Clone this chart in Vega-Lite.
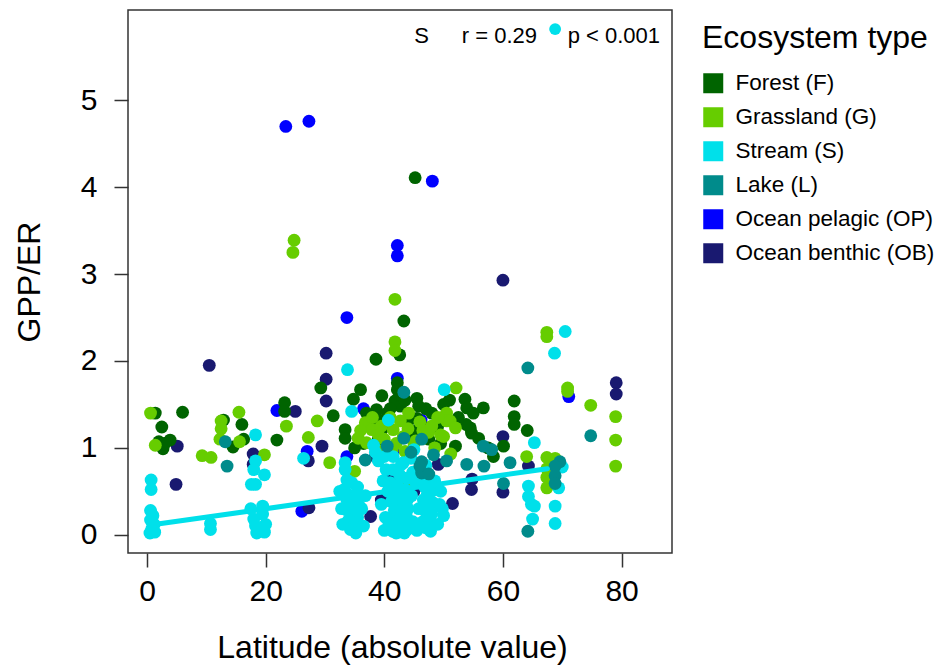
{
  "$schema": "https://vega.github.io/schema/vega-lite/v6.json",
  "width": 544,
  "height": 543,
  "autosize": {"type": "none"},
  "padding": {"left": 128, "top": 10, "right": 266, "bottom": 112},
  "background": "white",
  "config": {
    "font": "Liberation Sans",
    "view": {"stroke": "#333333", "strokeWidth": 1.5},
    "axis": {
      "labelFont": "Liberation Sans", "titleFont": "Liberation Sans",
      "labelFontSize": 30, "titleFontSize": 32, "titleFontWeight": "normal",
      "labelColor": "black", "titleColor": "black",
      "tickSize": 14, "tickColor": "#333333", "tickWidth": 1.5,
      "domain": false, "grid": false
    }
  },
  "datasets": {
    "pts": [
      {"type":"Ocean pelagic (OP)","lat":23.4,"ratio":4.70},
      {"type":"Ocean pelagic (OP)","lat":27.3,"ratio":4.76},
      {"type":"Ocean pelagic (OP)","lat":48.1,"ratio":4.07},
      {"type":"Ocean pelagic (OP)","lat":42.2,"ratio":3.33},
      {"type":"Ocean pelagic (OP)","lat":42.2,"ratio":3.21},
      {"type":"Ocean pelagic (OP)","lat":33.7,"ratio":2.50},
      {"type":"Ocean pelagic (OP)","lat":42.2,"ratio":1.80},
      {"type":"Ocean pelagic (OP)","lat":21.9,"ratio":1.43},
      {"type":"Ocean pelagic (OP)","lat":36.5,"ratio":1.45},
      {"type":"Ocean pelagic (OP)","lat":27.0,"ratio":0.96},
      {"type":"Ocean pelagic (OP)","lat":33.7,"ratio":0.90},
      {"type":"Ocean pelagic (OP)","lat":26.1,"ratio":0.27},
      {"type":"Ocean pelagic (OP)","lat":46.2,"ratio":1.32},
      {"type":"Ocean pelagic (OP)","lat":71.1,"ratio":1.59},
      {"type":"Ocean pelagic (OP)","lat":41.5,"ratio":0.97},
      {"type":"Ocean benthic (OB)","lat":60.0,"ratio":2.93},
      {"type":"Ocean benthic (OB)","lat":10.5,"ratio":1.95},
      {"type":"Ocean benthic (OB)","lat":30.2,"ratio":2.09},
      {"type":"Ocean benthic (OB)","lat":30.2,"ratio":1.79},
      {"type":"Ocean benthic (OB)","lat":30.2,"ratio":1.54},
      {"type":"Ocean benthic (OB)","lat":25.0,"ratio":1.42},
      {"type":"Ocean benthic (OB)","lat":5.1,"ratio":1.02},
      {"type":"Ocean benthic (OB)","lat":4.9,"ratio":0.58},
      {"type":"Ocean benthic (OB)","lat":17.9,"ratio":0.93},
      {"type":"Ocean benthic (OB)","lat":17.9,"ratio":0.81},
      {"type":"Ocean benthic (OB)","lat":29.5,"ratio":1.02},
      {"type":"Ocean benthic (OB)","lat":27.2,"ratio":0.85},
      {"type":"Ocean benthic (OB)","lat":27.3,"ratio":0.31},
      {"type":"Ocean benthic (OB)","lat":37.7,"ratio":0.21},
      {"type":"Ocean benthic (OB)","lat":41.5,"ratio":0.65},
      {"type":"Ocean benthic (OB)","lat":41.3,"ratio":0.70},
      {"type":"Ocean benthic (OB)","lat":49.1,"ratio":0.81},
      {"type":"Ocean benthic (OB)","lat":54.8,"ratio":0.64},
      {"type":"Ocean benthic (OB)","lat":54.7,"ratio":0.52},
      {"type":"Ocean benthic (OB)","lat":51.5,"ratio":0.36},
      {"type":"Ocean benthic (OB)","lat":60.0,"ratio":1.13},
      {"type":"Ocean benthic (OB)","lat":60.0,"ratio":0.49},
      {"type":"Ocean benthic (OB)","lat":64.3,"ratio":0.79},
      {"type":"Ocean benthic (OB)","lat":79.1,"ratio":1.75},
      {"type":"Ocean benthic (OB)","lat":79.1,"ratio":1.62},
      {"type":"Ocean benthic (OB)","lat":38.5,"ratio":0.90},
      {"type":"Ocean benthic (OB)","lat":45.0,"ratio":0.50},
      {"type":"Ocean benthic (OB)","lat":39.5,"ratio":0.40},
      {"type":"Forest (F)","lat":45.2,"ratio":4.11},
      {"type":"Forest (F)","lat":43.3,"ratio":2.46},
      {"type":"Forest (F)","lat":42.6,"ratio":2.07},
      {"type":"Forest (F)","lat":38.6,"ratio":2.02},
      {"type":"Forest (F)","lat":29.3,"ratio":1.69},
      {"type":"Forest (F)","lat":36.0,"ratio":1.67},
      {"type":"Forest (F)","lat":31.4,"ratio":1.37},
      {"type":"Forest (F)","lat":39.6,"ratio":1.60},
      {"type":"Forest (F)","lat":34.8,"ratio":1.56},
      {"type":"Forest (F)","lat":42.2,"ratio":1.75},
      {"type":"Forest (F)","lat":42.2,"ratio":1.67},
      {"type":"Forest (F)","lat":41.8,"ratio":1.54},
      {"type":"Forest (F)","lat":42.7,"ratio":1.48},
      {"type":"Forest (F)","lat":38.7,"ratio":1.44},
      {"type":"Forest (F)","lat":38.7,"ratio":1.34},
      {"type":"Forest (F)","lat":45.5,"ratio":1.57},
      {"type":"Forest (F)","lat":45.8,"ratio":1.48},
      {"type":"Forest (F)","lat":48.0,"ratio":1.40},
      {"type":"Forest (F)","lat":51.0,"ratio":1.55},
      {"type":"Forest (F)","lat":53.6,"ratio":1.56},
      {"type":"Forest (F)","lat":53.9,"ratio":1.46},
      {"type":"Forest (F)","lat":56.7,"ratio":1.46},
      {"type":"Forest (F)","lat":54.5,"ratio":1.23},
      {"type":"Forest (F)","lat":54.7,"ratio":1.17},
      {"type":"Forest (F)","lat":55.9,"ratio":1.11},
      {"type":"Forest (F)","lat":53.8,"ratio":1.27},
      {"type":"Forest (F)","lat":45.5,"ratio":1.34},
      {"type":"Forest (F)","lat":46.3,"ratio":1.25},
      {"type":"Forest (F)","lat":37.9,"ratio":1.25},
      {"type":"Forest (F)","lat":39.6,"ratio":1.21},
      {"type":"Forest (F)","lat":33.4,"ratio":1.21},
      {"type":"Forest (F)","lat":33.4,"ratio":1.11},
      {"type":"Forest (F)","lat":61.9,"ratio":1.54},
      {"type":"Forest (F)","lat":61.9,"ratio":1.36},
      {"type":"Forest (F)","lat":61.9,"ratio":1.27},
      {"type":"Forest (F)","lat":64.1,"ratio":1.20},
      {"type":"Forest (F)","lat":60.1,"ratio":1.02},
      {"type":"Forest (F)","lat":58.4,"ratio":0.90},
      {"type":"Forest (F)","lat":1.4,"ratio":1.40},
      {"type":"Forest (F)","lat":6.0,"ratio":1.41},
      {"type":"Forest (F)","lat":2.5,"ratio":1.24},
      {"type":"Forest (F)","lat":2.0,"ratio":1.07},
      {"type":"Forest (F)","lat":3.9,"ratio":1.09},
      {"type":"Forest (F)","lat":2.7,"ratio":0.99},
      {"type":"Forest (F)","lat":3.0,"ratio":1.05},
      {"type":"Forest (F)","lat":12.9,"ratio":1.32},
      {"type":"Forest (F)","lat":16.0,"ratio":1.27},
      {"type":"Forest (F)","lat":14.5,"ratio":1.01},
      {"type":"Forest (F)","lat":16.3,"ratio":1.10},
      {"type":"Forest (F)","lat":21.9,"ratio":1.09},
      {"type":"Forest (F)","lat":23.2,"ratio":1.52},
      {"type":"Forest (F)","lat":23.2,"ratio":1.42},
      {"type":"Forest (F)","lat":36.5,"ratio":1.05},
      {"type":"Forest (F)","lat":40.5,"ratio":1.40},
      {"type":"Forest (F)","lat":44.0,"ratio":1.30},
      {"type":"Forest (F)","lat":47.5,"ratio":1.10},
      {"type":"Forest (F)","lat":49.5,"ratio":1.05},
      {"type":"Forest (F)","lat":44.5,"ratio":1.15},
      {"type":"Forest (F)","lat":40.0,"ratio":1.00},
      {"type":"Forest (F)","lat":35.0,"ratio":1.00},
      {"type":"Forest (F)","lat":57.5,"ratio":1.00},
      {"type":"Forest (F)","lat":52.0,"ratio":1.02},
      {"type":"Forest (F)","lat":37.0,"ratio":1.40},
      {"type":"Forest (F)","lat":41.0,"ratio":1.45},
      {"type":"Forest (F)","lat":43.5,"ratio":1.55},
      {"type":"Forest (F)","lat":47.0,"ratio":1.45},
      {"type":"Forest (F)","lat":50.0,"ratio":1.50},
      {"type":"Forest (F)","lat":39.0,"ratio":1.10},
      {"type":"Forest (F)","lat":45.5,"ratio":1.20},
      {"type":"Forest (F)","lat":49.0,"ratio":1.25},
      {"type":"Forest (F)","lat":52.5,"ratio":1.35},
      {"type":"Forest (F)","lat":55.0,"ratio":1.40},
      {"type":"Grassland (G)","lat":24.8,"ratio":3.39},
      {"type":"Grassland (G)","lat":24.6,"ratio":3.25},
      {"type":"Grassland (G)","lat":41.8,"ratio":2.71},
      {"type":"Grassland (G)","lat":41.8,"ratio":2.22},
      {"type":"Grassland (G)","lat":41.8,"ratio":2.12},
      {"type":"Grassland (G)","lat":67.4,"ratio":2.33},
      {"type":"Grassland (G)","lat":67.4,"ratio":2.28},
      {"type":"Grassland (G)","lat":70.9,"ratio":1.69},
      {"type":"Grassland (G)","lat":70.9,"ratio":1.65},
      {"type":"Grassland (G)","lat":74.8,"ratio":1.49},
      {"type":"Grassland (G)","lat":79.0,"ratio":1.36},
      {"type":"Grassland (G)","lat":79.0,"ratio":1.09},
      {"type":"Grassland (G)","lat":79.0,"ratio":0.79},
      {"type":"Grassland (G)","lat":52.1,"ratio":1.69},
      {"type":"Grassland (G)","lat":0.6,"ratio":1.40},
      {"type":"Grassland (G)","lat":1.4,"ratio":1.03},
      {"type":"Grassland (G)","lat":9.3,"ratio":0.91},
      {"type":"Grassland (G)","lat":10.8,"ratio":0.89},
      {"type":"Grassland (G)","lat":12.5,"ratio":1.31},
      {"type":"Grassland (G)","lat":12.5,"ratio":1.22},
      {"type":"Grassland (G)","lat":12.3,"ratio":1.10},
      {"type":"Grassland (G)","lat":15.5,"ratio":1.41},
      {"type":"Grassland (G)","lat":15.6,"ratio":1.07},
      {"type":"Grassland (G)","lat":19.8,"ratio":0.92},
      {"type":"Grassland (G)","lat":23.5,"ratio":1.25},
      {"type":"Grassland (G)","lat":28.7,"ratio":1.31},
      {"type":"Grassland (G)","lat":27.2,"ratio":1.12},
      {"type":"Grassland (G)","lat":30.8,"ratio":0.83},
      {"type":"Grassland (G)","lat":35.0,"ratio":0.73},
      {"type":"Grassland (G)","lat":36.8,"ratio":1.29},
      {"type":"Grassland (G)","lat":37.9,"ratio":1.21},
      {"type":"Grassland (G)","lat":39.0,"ratio":1.15},
      {"type":"Grassland (G)","lat":35.6,"ratio":1.11},
      {"type":"Grassland (G)","lat":38.7,"ratio":0.98},
      {"type":"Grassland (G)","lat":37.0,"ratio":1.06},
      {"type":"Grassland (G)","lat":44.1,"ratio":1.40},
      {"type":"Grassland (G)","lat":42.7,"ratio":1.31},
      {"type":"Grassland (G)","lat":41.5,"ratio":1.21},
      {"type":"Grassland (G)","lat":43.2,"ratio":1.13},
      {"type":"Grassland (G)","lat":41.3,"ratio":0.98},
      {"type":"Grassland (G)","lat":43.8,"ratio":0.94},
      {"type":"Grassland (G)","lat":45.0,"ratio":1.05},
      {"type":"Grassland (G)","lat":45.3,"ratio":1.08},
      {"type":"Grassland (G)","lat":47.5,"ratio":1.18},
      {"type":"Grassland (G)","lat":49.5,"ratio":1.15},
      {"type":"Grassland (G)","lat":50.0,"ratio":1.13},
      {"type":"Grassland (G)","lat":50.5,"ratio":1.40},
      {"type":"Grassland (G)","lat":50.5,"ratio":1.31},
      {"type":"Grassland (G)","lat":51.1,"ratio":1.31},
      {"type":"Grassland (G)","lat":52.0,"ratio":1.23},
      {"type":"Grassland (G)","lat":51.2,"ratio":0.93},
      {"type":"Grassland (G)","lat":43.5,"ratio":0.60},
      {"type":"Grassland (G)","lat":64.0,"ratio":0.90},
      {"type":"Grassland (G)","lat":67.4,"ratio":0.89},
      {"type":"Grassland (G)","lat":68.8,"ratio":0.88},
      {"type":"Grassland (G)","lat":67.4,"ratio":0.76},
      {"type":"Grassland (G)","lat":67.4,"ratio":0.66},
      {"type":"Grassland (G)","lat":67.4,"ratio":0.54},
      {"type":"Grassland (G)","lat":43.5,"ratio":0.96},
      {"type":"Grassland (G)","lat":40.0,"ratio":1.10},
      {"type":"Grassland (G)","lat":38.0,"ratio":1.35},
      {"type":"Grassland (G)","lat":46.5,"ratio":1.20},
      {"type":"Grassland (G)","lat":48.5,"ratio":1.00},
      {"type":"Grassland (G)","lat":39.5,"ratio":1.25},
      {"type":"Grassland (G)","lat":41.0,"ratio":1.35},
      {"type":"Grassland (G)","lat":42.0,"ratio":1.05},
      {"type":"Grassland (G)","lat":44.0,"ratio":1.22},
      {"type":"Grassland (G)","lat":46.0,"ratio":1.30},
      {"type":"Grassland (G)","lat":48.0,"ratio":1.25},
      {"type":"Grassland (G)","lat":36.0,"ratio":1.20},
      {"type":"Grassland (G)","lat":49.0,"ratio":1.35},
      {"type":"Stream (S)","lat":0.7,"ratio":0.63},
      {"type":"Stream (S)","lat":0.7,"ratio":0.52},
      {"type":"Stream (S)","lat":0.6,"ratio":0.28},
      {"type":"Stream (S)","lat":1.0,"ratio":0.22},
      {"type":"Stream (S)","lat":0.6,"ratio":0.17},
      {"type":"Stream (S)","lat":1.2,"ratio":0.12},
      {"type":"Stream (S)","lat":0.8,"ratio":0.07},
      {"type":"Stream (S)","lat":1.3,"ratio":0.03},
      {"type":"Stream (S)","lat":0.5,"ratio":0.02},
      {"type":"Stream (S)","lat":10.7,"ratio":0.13},
      {"type":"Stream (S)","lat":10.7,"ratio":0.06},
      {"type":"Stream (S)","lat":18.3,"ratio":1.15},
      {"type":"Stream (S)","lat":18.3,"ratio":0.85},
      {"type":"Stream (S)","lat":18.0,"ratio":0.75},
      {"type":"Stream (S)","lat":19.8,"ratio":0.69},
      {"type":"Stream (S)","lat":17.6,"ratio":0.58},
      {"type":"Stream (S)","lat":18.3,"ratio":0.58},
      {"type":"Stream (S)","lat":19.5,"ratio":0.33},
      {"type":"Stream (S)","lat":19.5,"ratio":0.24},
      {"type":"Stream (S)","lat":18.0,"ratio":0.18},
      {"type":"Stream (S)","lat":18.3,"ratio":0.10},
      {"type":"Stream (S)","lat":19.8,"ratio":0.03},
      {"type":"Stream (S)","lat":18.5,"ratio":0.02},
      {"type":"Stream (S)","lat":20.0,"ratio":0.12},
      {"type":"Stream (S)","lat":17.5,"ratio":0.30},
      {"type":"Stream (S)","lat":26.4,"ratio":0.88},
      {"type":"Stream (S)","lat":33.8,"ratio":1.90},
      {"type":"Stream (S)","lat":34.5,"ratio":1.42},
      {"type":"Stream (S)","lat":33.4,"ratio":0.83},
      {"type":"Stream (S)","lat":33.4,"ratio":0.75},
      {"type":"Stream (S)","lat":33.7,"ratio":0.63},
      {"type":"Stream (S)","lat":34.5,"ratio":0.60},
      {"type":"Stream (S)","lat":35.5,"ratio":0.55},
      {"type":"Stream (S)","lat":33.2,"ratio":0.52},
      {"type":"Stream (S)","lat":34.0,"ratio":0.46},
      {"type":"Stream (S)","lat":35.2,"ratio":0.44},
      {"type":"Stream (S)","lat":33.7,"ratio":0.40},
      {"type":"Stream (S)","lat":34.6,"ratio":0.35},
      {"type":"Stream (S)","lat":35.8,"ratio":0.33},
      {"type":"Stream (S)","lat":33.5,"ratio":0.29},
      {"type":"Stream (S)","lat":34.7,"ratio":0.25},
      {"type":"Stream (S)","lat":35.5,"ratio":0.20},
      {"type":"Stream (S)","lat":34.0,"ratio":0.17},
      {"type":"Stream (S)","lat":35.0,"ratio":0.12},
      {"type":"Stream (S)","lat":34.3,"ratio":0.06},
      {"type":"Stream (S)","lat":35.2,"ratio":0.02},
      {"type":"Stream (S)","lat":36.2,"ratio":0.30},
      {"type":"Stream (S)","lat":32.5,"ratio":0.50},
      {"type":"Stream (S)","lat":36.5,"ratio":0.10},
      {"type":"Stream (S)","lat":36.8,"ratio":0.45},
      {"type":"Stream (S)","lat":32.8,"ratio":0.30},
      {"type":"Stream (S)","lat":33.0,"ratio":0.12},
      {"type":"Stream (S)","lat":40.7,"ratio":1.32},
      {"type":"Stream (S)","lat":38.5,"ratio":0.95},
      {"type":"Stream (S)","lat":40.0,"ratio":0.90},
      {"type":"Stream (S)","lat":38.2,"ratio":1.03},
      {"type":"Stream (S)","lat":45.0,"ratio":0.98},
      {"type":"Stream (S)","lat":39.0,"ratio":0.85},
      {"type":"Stream (S)","lat":42.9,"ratio":0.81},
      {"type":"Stream (S)","lat":43.2,"ratio":0.83},
      {"type":"Stream (S)","lat":41.5,"ratio":0.75},
      {"type":"Stream (S)","lat":42.5,"ratio":0.70},
      {"type":"Stream (S)","lat":43.8,"ratio":0.65},
      {"type":"Stream (S)","lat":41.0,"ratio":0.60},
      {"type":"Stream (S)","lat":42.2,"ratio":0.57},
      {"type":"Stream (S)","lat":43.5,"ratio":0.52},
      {"type":"Stream (S)","lat":41.8,"ratio":0.48},
      {"type":"Stream (S)","lat":42.8,"ratio":0.45},
      {"type":"Stream (S)","lat":43.9,"ratio":0.40},
      {"type":"Stream (S)","lat":41.2,"ratio":0.38},
      {"type":"Stream (S)","lat":42.3,"ratio":0.35},
      {"type":"Stream (S)","lat":43.2,"ratio":0.32},
      {"type":"Stream (S)","lat":41.7,"ratio":0.28},
      {"type":"Stream (S)","lat":42.7,"ratio":0.25},
      {"type":"Stream (S)","lat":43.7,"ratio":0.22},
      {"type":"Stream (S)","lat":41.3,"ratio":0.19},
      {"type":"Stream (S)","lat":42.2,"ratio":0.16},
      {"type":"Stream (S)","lat":43.3,"ratio":0.13},
      {"type":"Stream (S)","lat":41.8,"ratio":0.10},
      {"type":"Stream (S)","lat":42.8,"ratio":0.08},
      {"type":"Stream (S)","lat":43.9,"ratio":0.06},
      {"type":"Stream (S)","lat":41.4,"ratio":0.04},
      {"type":"Stream (S)","lat":42.4,"ratio":0.03},
      {"type":"Stream (S)","lat":43.4,"ratio":0.02},
      {"type":"Stream (S)","lat":44.2,"ratio":0.10},
      {"type":"Stream (S)","lat":40.8,"ratio":0.12},
      {"type":"Stream (S)","lat":44.0,"ratio":0.30},
      {"type":"Stream (S)","lat":40.6,"ratio":0.50},
      {"type":"Stream (S)","lat":42.0,"ratio":0.02},
      {"type":"Stream (S)","lat":43.0,"ratio":0.44},
      {"type":"Stream (S)","lat":41.5,"ratio":0.90},
      {"type":"Stream (S)","lat":44.5,"ratio":0.88},
      {"type":"Stream (S)","lat":39.8,"ratio":0.62},
      {"type":"Stream (S)","lat":39.5,"ratio":0.35},
      {"type":"Stream (S)","lat":40.2,"ratio":0.20},
      {"type":"Stream (S)","lat":40.0,"ratio":0.05},
      {"type":"Stream (S)","lat":44.8,"ratio":0.15},
      {"type":"Stream (S)","lat":44.6,"ratio":0.45},
      {"type":"Stream (S)","lat":45.3,"ratio":0.60},
      {"type":"Stream (S)","lat":40.3,"ratio":0.75},
      {"type":"Stream (S)","lat":44.8,"ratio":0.72},
      {"type":"Stream (S)","lat":45.8,"ratio":0.30},
      {"type":"Stream (S)","lat":45.5,"ratio":0.05},
      {"type":"Stream (S)","lat":47.0,"ratio":0.80},
      {"type":"Stream (S)","lat":46.5,"ratio":0.67},
      {"type":"Stream (S)","lat":47.5,"ratio":0.60},
      {"type":"Stream (S)","lat":46.8,"ratio":0.55},
      {"type":"Stream (S)","lat":48.0,"ratio":0.50},
      {"type":"Stream (S)","lat":47.2,"ratio":0.45},
      {"type":"Stream (S)","lat":46.6,"ratio":0.40},
      {"type":"Stream (S)","lat":48.2,"ratio":0.37},
      {"type":"Stream (S)","lat":47.5,"ratio":0.33},
      {"type":"Stream (S)","lat":46.8,"ratio":0.28},
      {"type":"Stream (S)","lat":48.0,"ratio":0.24},
      {"type":"Stream (S)","lat":47.3,"ratio":0.20},
      {"type":"Stream (S)","lat":46.5,"ratio":0.15},
      {"type":"Stream (S)","lat":48.3,"ratio":0.12},
      {"type":"Stream (S)","lat":47.0,"ratio":0.08},
      {"type":"Stream (S)","lat":47.8,"ratio":0.04},
      {"type":"Stream (S)","lat":49.3,"ratio":0.35},
      {"type":"Stream (S)","lat":50.0,"ratio":0.22},
      {"type":"Stream (S)","lat":49.0,"ratio":0.12},
      {"type":"Stream (S)","lat":49.8,"ratio":0.30},
      {"type":"Stream (S)","lat":48.5,"ratio":0.62},
      {"type":"Stream (S)","lat":49.5,"ratio":0.50},
      {"type":"Stream (S)","lat":50.1,"ratio":1.67},
      {"type":"Stream (S)","lat":65.3,"ratio":1.06},
      {"type":"Stream (S)","lat":70.5,"ratio":2.34},
      {"type":"Stream (S)","lat":68.7,"ratio":2.09},
      {"type":"Stream (S)","lat":64.3,"ratio":0.56},
      {"type":"Stream (S)","lat":64.3,"ratio":0.44},
      {"type":"Stream (S)","lat":64.8,"ratio":0.35},
      {"type":"Stream (S)","lat":65.3,"ratio":0.33},
      {"type":"Stream (S)","lat":65.0,"ratio":0.18},
      {"type":"Stream (S)","lat":69.4,"ratio":0.54},
      {"type":"Stream (S)","lat":68.8,"ratio":0.33},
      {"type":"Stream (S)","lat":68.8,"ratio":0.13},
      {"type":"Stream (S)","lat":70.0,"ratio":0.78},
      {"type":"Lake (L)","lat":64.2,"ratio":1.92},
      {"type":"Lake (L)","lat":74.8,"ratio":1.14},
      {"type":"Lake (L)","lat":43.3,"ratio":1.64},
      {"type":"Lake (L)","lat":43.3,"ratio":1.11},
      {"type":"Lake (L)","lat":46.3,"ratio":1.10},
      {"type":"Lake (L)","lat":48.3,"ratio":0.92},
      {"type":"Lake (L)","lat":46.3,"ratio":0.84},
      {"type":"Lake (L)","lat":46.3,"ratio":0.71},
      {"type":"Lake (L)","lat":46.0,"ratio":0.79},
      {"type":"Lake (L)","lat":36.8,"ratio":0.86},
      {"type":"Lake (L)","lat":53.9,"ratio":0.81},
      {"type":"Lake (L)","lat":56.7,"ratio":1.02},
      {"type":"Lake (L)","lat":58.1,"ratio":0.98},
      {"type":"Lake (L)","lat":56.8,"ratio":0.79},
      {"type":"Lake (L)","lat":61.2,"ratio":0.83},
      {"type":"Lake (L)","lat":60.1,"ratio":0.59},
      {"type":"Lake (L)","lat":69.6,"ratio":0.84},
      {"type":"Lake (L)","lat":68.8,"ratio":0.79},
      {"type":"Lake (L)","lat":68.8,"ratio":0.68},
      {"type":"Lake (L)","lat":68.8,"ratio":0.59},
      {"type":"Lake (L)","lat":64.2,"ratio":0.04},
      {"type":"Lake (L)","lat":13.2,"ratio":1.07},
      {"type":"Lake (L)","lat":13.5,"ratio":0.79},
      {"type":"Lake (L)","lat":44.5,"ratio":0.95},
      {"type":"Lake (L)","lat":40.5,"ratio":1.02},
      {"type":"Lake (L)","lat":47.5,"ratio":0.70},
      {"type":"Lake (L)","lat":50.5,"ratio":0.85}
    ],
    "fit": [
      {"lat": 1.5, "ratio": 0.12},
      {"lat": 67.5, "ratio": 0.76}
    ],
    "notes": [
      {"lat": 46.3, "ratio": 5.66, "label": "S"},
      {"lat": 59.4, "ratio": 5.66, "label": "r = 0.29"},
      {"lat": 78.7, "ratio": 5.66, "label": "p < 0.001"}
    ],
    "dot": [
      {"lat": 68.8, "ratio": 5.82}
    ]
  },
  "layer": [
    {
      "data": {"name": "pts"},
      "mark": {"type": "circle", "size": 165, "opacity": 1},
      "encoding": {
        "x": {
          "field": "lat", "type": "quantitative",
          "scale": {"domain": [-3.2, 88.5], "nice": false, "zero": false},
          "axis": {"values": [0, 20, 40, 60, 80], "format": "d", "title": "Latitude (absolute value)", "labelPadding": 9, "titleX": 264, "titleY": 104, "titleBaseline": "alphabetic", "titleAlign": "center"}
        },
        "y": {
          "field": "ratio", "type": "quantitative",
          "scale": {"domain": [-0.21, 6.04], "nice": false, "zero": false},
          "axis": {"values": [0, 1, 2, 3, 4, 5], "format": "d", "title": "GPP/ER", "labelPadding": 17, "titleX": -99, "titleY": 271.5, "titleAngle": -90, "titleBaseline": "middle", "titleAlign": "center"}
        },
        "color": {
          "field": "type", "type": "nominal",
          "scale": {
            "domain": ["Forest (F)", "Grassland (G)", "Stream (S)", "Lake (L)", "Ocean pelagic (OP)", "Ocean benthic (OB)"],
            "range": ["#006400", "#66CD00", "#00E0EA", "#008B8B", "#0000FF", "#191970"]
          },
          "legend": {
            "title": "Ecosystem type", "orient": "none", "legendX": 574, "legendY": 13,
            "titleFont": "Liberation Sans", "titleFontSize": 32, "titleFontWeight": "normal", "titleColor": "black", "titlePadding": 17, "titleLimit": 400,
            "labelFont": "Liberation Sans", "labelFontSize": 22.5, "labelColor": "black", "labelOffset": 11, "labelLimit": 300,
            "symbolType": "square", "symbolSize": 400, "symbolStrokeWidth": 0, "symbolOpacity": 1,
            "rowPadding": 11, "padding": 0
          }
        }
      }
    },
    {
      "data": {"name": "fit"},
      "mark": {"type": "line", "color": "#00E0EA", "strokeWidth": 5, "strokeCap": "round"},
      "encoding": {
        "x": {"field": "lat", "type": "quantitative"},
        "y": {"field": "ratio", "type": "quantitative"}
      }
    },
    {
      "mark": {"type": "rule", "color": "black", "strokeDash": [1, 4], "strokeWidth": 1.2},
      "encoding": {"y": {"datum": 1}}
    },
    {
      "data": {"name": "notes"},
      "mark": {"type": "text", "font": "Liberation Sans", "fontSize": 22, "color": "black", "align": "center", "baseline": "alphabetic"},
      "encoding": {
        "x": {"field": "lat", "type": "quantitative"},
        "y": {"field": "ratio", "type": "quantitative"},
        "text": {"field": "label"}
      }
    },
    {
      "data": {"name": "dot"},
      "mark": {"type": "circle", "size": 140, "opacity": 1, "color": "#00E0EA"},
      "encoding": {
        "x": {"field": "lat", "type": "quantitative"},
        "y": {"field": "ratio", "type": "quantitative"}
      }
    }
  ]
}
